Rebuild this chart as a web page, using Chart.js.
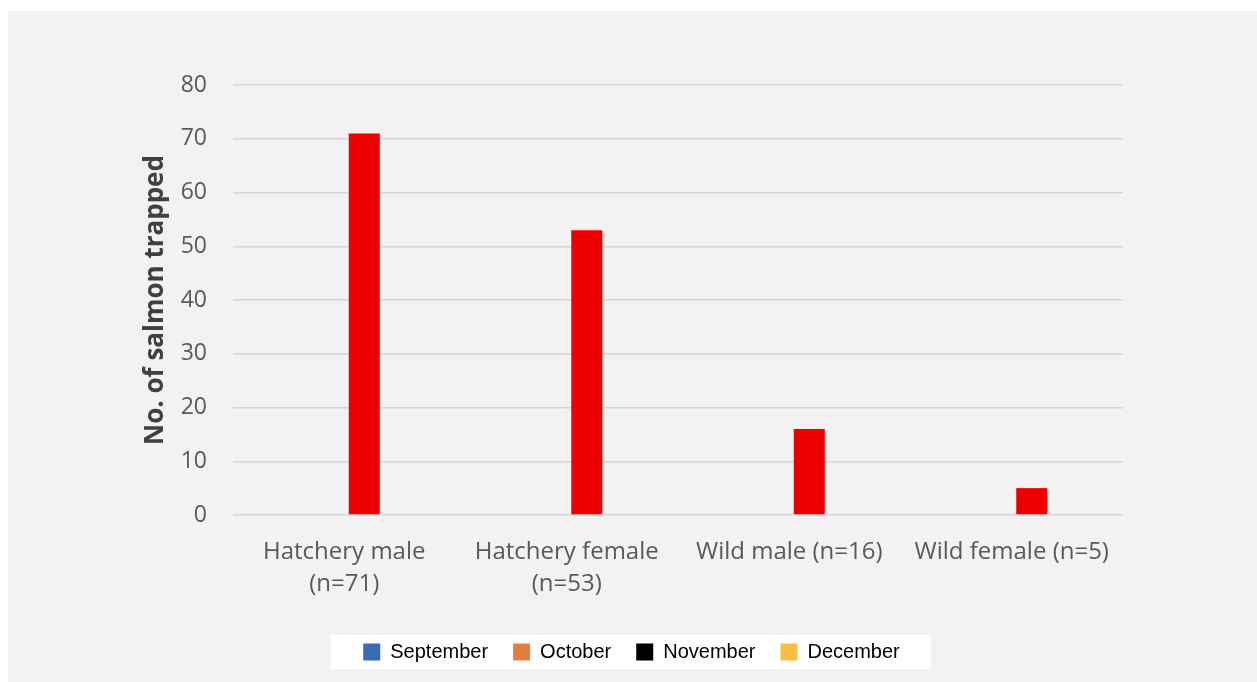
<!DOCTYPE html>
<html>
<head>
<meta charset="utf-8">
<title>Salmon trapped</title>
<script src="https://cdn.jsdelivr.net/npm/chart.js@4/dist/chart.umd.min.js"></script>
<style>
  html, body { margin: 0; padding: 0; background: #ffffff; }
  #panel { position: absolute; left: 8px; top: 11px; right: 0; bottom: 0; background: #f3f1f2; }
  #wrap { position: absolute; left: 0; top: 0; width: 1257px; height: 682px; }
</style>
</head>
<body>
<div id="panel"></div>
<div id="wrap"><canvas id="chart" width="1257" height="682"></canvas></div>
<script>
// groups of fish caught at the trap
const categories = [
  ['Hatchery male', '(n=71)'],
  ['Hatchery female', '(n=53)'],
  'Wild male (n=16)',
  'Wild female (n=5)'
];
const trapped = [71, 53, 16, 5];
// empty first series of the grouped layout (nothing recorded)
const emptySeries = [null, null, null, null];

const yTicks = { min: 0, max: 80, step: 10 };

const months = ['September', 'October', 'November', 'December'];
const monthColors = ['#3a6bb3', '#e07f3e', '#000000', '#f6bf41'];

// white panel behind the month key
const legendBackdrop = {
  id: 'legendBackdrop',
  beforeDraw(chart) {
    const boxes = chart.legend && chart.legend.legendHitBoxes;
    if (!boxes || !boxes.length) return;
    const first = boxes[0];
    const last = boxes[boxes.length - 1];
    const mid = first.top + first.height / 2;
    const ctx = chart.ctx;
    ctx.save();
    ctx.fillStyle = '#ffffff';
    ctx.fillRect(first.left - 32, mid - 17, last.left + last.width + 31 - (first.left - 32), 34);
    ctx.restore();
  }
};

new Chart(document.getElementById('chart'), {
  type: 'bar',
  data: {
    labels: categories,
    datasets: [
      { label: 'blank', data: emptySeries, backgroundColor: 'rgba(0,0,0,0)' },
      { label: 'No. of salmon trapped', data: trapped, backgroundColor: '#ee0000' }
    ]
  },
  options: {
    responsive: false,
    animation: false,
    categoryPercentage: 0.36,
    barPercentage: 0.775,
    layout: { padding: { left: 140, right: 134, top: 85, bottom: 10 } },
    plugins: {
      tooltip: { enabled: false },
      legend: {
        position: 'bottom',
        labels: {
          color: '#000000',
          font: { family: 'Liberation Sans', size: 20 },
          boxWidth: 17,
          boxHeight: 17,
          padding: 25,
          generateLabels: () => months.map((m, i) => ({
            text: m,
            fillStyle: monthColors[i],
            strokeStyle: monthColors[i],
            lineWidth: 0,
            hidden: false,
            datasetIndex: i
          }))
        }
      }
    },
    scales: {
      x: {
        grid: { display: false, drawTicks: false },
        border: { display: false },
        ticks: {
          color: '#595959',
          font: { family: 'Open Sans', size: 24, lineHeight: 1.35 },
          padding: 21,
          maxRotation: 0,
          autoSkip: false
        },
        afterFit(scale) { scale.height = 102; }
      },
      y: {
        min: yTicks.min,
        max: yTicks.max,
        ticks: {
          stepSize: yTicks.step,
          color: '#595959',
          font: { family: 'Open Sans', size: 23 },
          padding: 26
        },
        grid: { color: '#d6d6d6', lineWidth: 1.5, drawTicks: false },
        border: { display: false },
        title: {
          display: true,
          text: 'No. of salmon trapped',
          color: '#404040',
          font: { family: 'Open Sans', size: 26, weight: 'bold' },
          padding: { top: 0, bottom: 0 }
        },
        afterFit(scale) { scale.width = 93; }
      }
    }
  },
  plugins: [legendBackdrop]
});
</script>
</body>
</html>
